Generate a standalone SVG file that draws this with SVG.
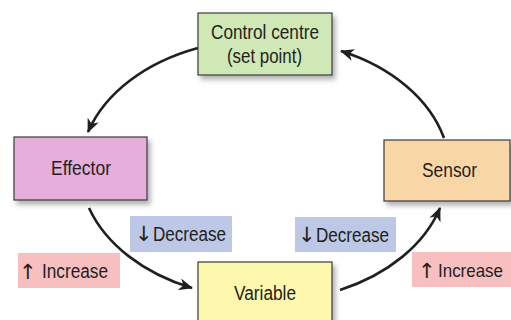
<svg xmlns="http://www.w3.org/2000/svg" width="511" height="320" viewBox="0 0 511 320">
<defs>
<filter id="sh" x="-10%" y="-10%" width="130%" height="140%">
<feDropShadow dx="3" dy="4" stdDeviation="2.5" flood-color="#000" flood-opacity="0.3"/>
</filter>
<marker id="ah" markerWidth="14" markerHeight="12" refX="13" refY="6" orient="auto" markerUnits="userSpaceOnUse">
<path d="M0,0 L14,6 L0,12 L4,6 z" fill="#231f20"/>
</marker>
<style>
.box{stroke:#3a3a3a;stroke-width:1.2;filter:url(#sh)}
.t{font-family:"Liberation Sans",Arial,sans-serif;font-size:19.5px;fill:#231f20}
.a{font-family:"DejaVu Sans",sans-serif;font-size:21px}
.c{stroke:#231f20;stroke-width:2.6;fill:none;marker-end:url(#ah)}
</style>
</defs>
<rect width="511" height="320" fill="#fff"/>
<g id="connectors">
<path class="c" d="M198,48 A182,132 0 0 0 88,132"/>
<path class="c" d="M89,208 A182,132 0 0 0 192,288"/>
<path class="c" d="M340,290 A182,132 0 0 0 440,208"/>
<path class="c" d="M444,138 A182,132 0 0 0 341,51"/>
</g>
<g id="control">
<rect class="box" x="198" y="13" width="134" height="62" fill="#cfe8b6"/>
<text class="t" x="211" y="39" textLength="108" lengthAdjust="spacingAndGlyphs">Control centre</text>
<text class="t" x="227" y="63" textLength="75" lengthAdjust="spacingAndGlyphs">(set point)</text>
</g>
<g id="effector">
<rect class="box" x="14" y="137" width="133" height="63" fill="#e6aedb"/>
<text class="t" x="51" y="175" textLength="60" lengthAdjust="spacingAndGlyphs">Effector</text>
</g>
<g id="sensor">
<rect class="box" x="384" y="140" width="126" height="61" fill="#f9d6a6"/>
<text class="t" x="422" y="177" textLength="55" lengthAdjust="spacingAndGlyphs">Sensor</text>
</g>
<g id="variable">
<rect class="box" x="198" y="262" width="134" height="70" fill="#fdf8ad"/>
<text class="t" x="234" y="300" textLength="62" lengthAdjust="spacingAndGlyphs">Variable</text>
</g>
<g id="inc-left">
<rect x="18" y="253" width="102" height="35" fill="#f8bfc1"/>
<text class="t" y="278"><tspan class="a" x="19" y="279">↑</tspan><tspan x="42" y="278" textLength="66" lengthAdjust="spacingAndGlyphs">Increase</tspan></text>
</g>
<g id="dec-left">
<rect x="130" y="216" width="102" height="36" fill="#bcc8e6"/>
<text class="t" y="241"><tspan class="a" x="135" y="241">↓</tspan><tspan x="153" textLength="73" lengthAdjust="spacingAndGlyphs">Decrease</tspan></text>
</g>
<g id="dec-right">
<rect x="295" y="217" width="101" height="35" fill="#bcc8e6"/>
<text class="t" y="242"><tspan class="a" x="298" y="242">↓</tspan><tspan x="316" textLength="73" lengthAdjust="spacingAndGlyphs">Decrease</tspan></text>
</g>
<g id="inc-right">
<rect x="412" y="252" width="99" height="35" fill="#f8bfc1"/>
<text class="t" y="277"><tspan class="a" x="418" y="278">↑</tspan><tspan x="438" y="277" font-size="18.5" textLength="65" lengthAdjust="spacingAndGlyphs">Increase</tspan></text>
</g>
</svg>
